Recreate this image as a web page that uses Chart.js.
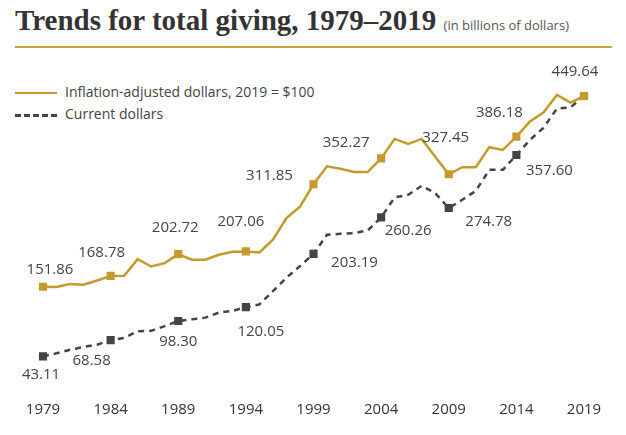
<!DOCTYPE html>
<html>
<head>
<meta charset="utf-8">
<script src="https://cdn.jsdelivr.net/npm/chart.js@4"></script>
<style>
  body { margin: 0; background: #fff; }
  #wrap { position: relative; width: 626px; height: 435px; }
  #title { position: absolute; left: 15px; top: 4px; font: bold 29px "Liberation Serif", serif; color: #333; white-space: nowrap; }
  #title span { font: 13px "Open Sans", sans-serif; color: #555; }
  #rule { position: absolute; left: 15px; top: 46px; width: 597px; height: 2px; background: #c9a13a; }
  .leg { position: absolute; left: 15px; font: 14px "Open Sans", sans-serif; color: #444; white-space: nowrap; }
  .leg i { display: inline-block; width: 42px; vertical-align: middle; margin-right: 8px; }
  canvas { position: absolute; left: 0; top: 0; }
</style>
</head>
<body>
<div id="wrap">
  <div id="title">Trends for total giving, 1979–2019 <span>(in billions of dollars)</span></div>
  <div id="rule"></div>
  <div class="leg" style="top:82px"><i style="border-top:2.5px solid #c49a2c"></i>Inflation-adjusted dollars, 2019 = $100</div>
  <div class="leg" style="top:104px"><i style="border-top:3px dashed #444"></i>Current dollars</div>
  <canvas id="chart" width="626" height="435"></canvas>
</div>
<script>
const years = [];
for (let y = 1979; y <= 2019; y++) years.push(y);

const inflationAdjusted = [151.86, 151.4, 156, 155, 161.7, 168.78, 169, 195, 183.5, 188.8,
  202.72, 194, 194, 201.8, 206.5, 207.06, 205.4, 225.2, 259, 277,
  311.85, 340, 336, 331, 331, 352.27, 382.7, 375, 382.7, 355,
  327.45, 338.6, 338.6, 369.8, 365.6, 386.18, 409.8, 423.8, 451.4, 439.4, 449.64];

const currentDollars = [43.11, 48, 53.6, 57.8, 61.4, 68.58, 72, 82.5, 83, 90.3,
  98.30, 101, 103.6, 111.5, 114, 120.05, 124.3, 145, 166, 184,
  203.19, 233, 234.5, 235.6, 239.7, 260.26, 291.3, 295.5, 309.5, 298,
  274.78, 287.6, 301.6, 334.4, 334.4, 357.60, 381, 400, 430, 432, 449.64];

// label offsets (px) for the labelled years, one per 5-year mark
const goldOffsets = [[7,-17],[-9,-23],[-3,-26],[-5,-30],[-44,-9],[-35,-16],[-3,-37],[-17,-24],[-9,-24]];
const darkOffsets = [[-2,18],[-19,21],[0,21],[15,25],[41,9],[27,13],[40,14],[33,16],null];

const GOLD = '#c49a2c';
const DARK = '#444444';

const isMark = i => i % 5 === 0;

const valueLabels = {
  id: 'valueLabels',
  afterDatasetsDraw(chart) {
    const ctx = chart.ctx;
    ctx.save();
    ctx.font = '15px "Open Sans", sans-serif';
    ctx.fillStyle = '#444';
    ctx.textAlign = 'center';
    ctx.textBaseline = 'middle';
    [[0, inflationAdjusted, goldOffsets], [1, currentDollars, darkOffsets]].forEach(([di, vals, offs]) => {
      const meta = chart.getDatasetMeta(di);
      offs.forEach((o, k) => {
        if (!o) return;
        const pt = meta.data[k * 5];
        ctx.fillText(vals[k * 5].toFixed(2), pt.x + o[0], pt.y + o[1]);
      });
    });
    ctx.restore();
  }
};

new Chart(document.getElementById('chart'), {
  type: 'line',
  data: {
    labels: years,
    datasets: [{
      data: inflationAdjusted,
      borderColor: GOLD,
      backgroundColor: GOLD,
      borderWidth: 2.5,
      pointStyle: 'rect',
      pointRadius: ctx => isMark(ctx.dataIndex) ? 4 : 0,
      tension: 0
    }, {
      data: currentDollars,
      borderColor: DARK,
      backgroundColor: DARK,
      borderWidth: 2.5,
      borderDash: [6, 5],
      pointStyle: 'rect',
      pointRadius: ctx => isMark(ctx.dataIndex) ? 4 : 0,
      tension: 0
    }]
  },
  options: {
    responsive: false,
    animation: false,
    layout: { padding: { left: 43, right: 42, top: 83, bottom: 0 } },
    plugins: { legend: { display: false }, tooltip: { enabled: false } },
    scales: {
      x: {
        offset: false,
        grid: { display: false, drawTicks: false },
        border: { display: false },
        ticks: {
          autoSkip: false,
          maxRotation: 0,
          padding: 18,
          color: '#333',
          font: { size: 15, family: '"Open Sans", sans-serif', lineHeight: 1 },
          callback: (v, i) => isMark(i) ? years[i] : ''
        }
      },
      y: { display: false, min: 0, max: 470 }
    }
  },
  plugins: [valueLabels]
});
</script>
</body>
</html>
